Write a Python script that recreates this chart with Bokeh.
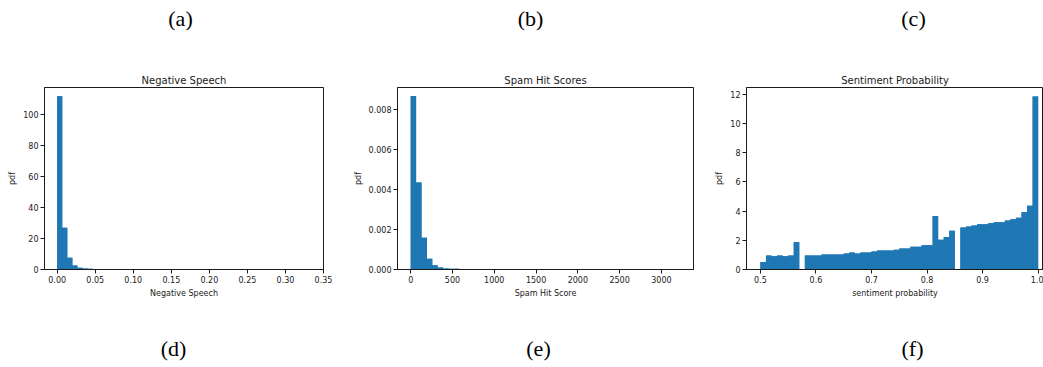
import numpy as np
from bokeh.plotting import figure
from bokeh.models import Range1d, FixedTicker, Label, ColumnDataSource
from bokeh.layouts import row, column
from bokeh.embed import file_html
from bokeh.resources import INLINE

# ---------------- data ----------------
# (d) Negative Speech: 50 bins from 0 to 1/3
neg_bin_start = 0.0
neg_bin_end = 1.0 / 3.0
neg_heights = [112.0, 27.0, 7.6, 2.6, 1.2, 0.65, 0.55, 0.2, 0.1, 0.05,
               0, 0, 0, 0, 0, 0, 0, 0, 0, 0,
               0, 0, 0, 0, 0, 0, 0, 0, 0, 0,
               0, 0, 0, 0, 0, 0, 0, 0, 0, 0,
               0, 0, 0, 0, 0, 0, 0, 0, 0, 0.02]
neg_xticks = [0.0, 0.05, 0.10, 0.15, 0.20, 0.25, 0.30, 0.35]
neg_xlabels = ["0.00", "0.05", "0.10", "0.15", "0.20", "0.25", "0.30", "0.35"]
neg_yticks = [0, 20, 40, 60, 80, 100]
neg_ylabels = ["0", "20", "40", "60", "80", "100"]

# (e) Spam Hit Scores: 50 bins from 0 to 3230
spam_bin_start = 0.0
spam_bin_end = 3230.0
spam_heights = [0.00868, 0.00435, 0.00159, 0.00054, 0.00021, 0.00010, 0.00005, 0.00004, 0.00004, 0.00001,
                0, 0, 0, 0, 0, 0, 0, 0, 0, 0,
                0, 0, 0, 0, 0, 0, 0, 0, 0, 0,
                0, 0, 0, 0, 0, 0, 0, 0, 0, 0,
                0, 0, 0, 0, 0, 0, 0, 0, 0, 0.0000005]
spam_xticks = [0, 500, 1000, 1500, 2000, 2500, 3000]
spam_xlabels = ["0", "500", "1000", "1500", "2000", "2500", "3000"]
spam_yticks = [0.0, 0.002, 0.004, 0.006, 0.008]
spam_ylabels = ["0.000", "0.002", "0.004", "0.006", "0.008"]

# (f) Sentiment Probability: 50 bins from 0.5 to 1.0
sent_bin_start = 0.5
sent_bin_end = 1.0
sent_heights = [0.52, 0.96, 0.91, 0.96, 0.91, 0.96, 1.89, 0.0, 0.96, 0.96,
                0.96, 1.02, 1.02, 1.02, 1.02, 1.09, 1.16, 1.09, 1.16, 1.16,
                1.23, 1.30, 1.30, 1.30, 1.35, 1.44, 1.44, 1.55, 1.55, 1.66,
                1.66, 3.67, 2.03, 2.23, 2.65, 0.0, 2.87, 2.94, 3.01, 3.10,
                3.10, 3.17, 3.23, 3.23, 3.35, 3.44, 3.55, 3.92, 4.37, 11.85]
sent_xticks = [0.5, 0.6, 0.7, 0.8, 0.9, 1.0]
sent_xlabels = ["0.5", "0.6", "0.7", "0.8", "0.9", "1.0"]
sent_yticks = [0, 2, 4, 6, 8, 10, 12]
sent_ylabels = ["0", "2", "4", "6", "8", "10", "12"]

titles = ["Negative Speech", "Spam Hit Scores", "Sentiment Probability"]
xlabels_axis = ["Negative Speech", "Spam Hit Score", "sentiment probability"]
top_tags = ["(a)", "(b)", "(c)"]
bottom_tags = ["(d)", "(e)", "(f)"]

BAR = "#1f77b4"
INK = "#1a1a1a"
FONT = "DejaVu Sans"

W = 1043
TOP_H = 40
BOT_H = 37
MID_H = 367 - TOP_H - BOT_H


def make_panel(width, borders, title, xlabel, start, end, heights, xr, yr,
               xticks, xlabels, yticks, ylabels):
    left, right, top, bottom = borders
    p = figure(width=width, height=MID_H, output_backend="svg", toolbar_location=None,
               x_range=Range1d(*xr), y_range=Range1d(*yr),
               min_border_left=left, min_border_right=right,
               min_border_top=top, min_border_bottom=bottom,
               title=title)
    edges = np.linspace(start, end, len(heights) + 1)
    # solid backing under the bars so adjacent bars show no seams
    p.varea_step(x=list(edges), y1=[0] * len(edges), y2=list(heights) + [heights[-1]],
                 step_mode="after", fill_color=BAR)
    src = ColumnDataSource(dict(left=edges[:-1], right=edges[1:],
                                top=heights, bottom=[0] * len(heights)))
    p.quad(left="left", right="right", top="top", bottom="bottom", source=src,
           fill_color=BAR, line_color=None)

    p.title.text_font = FONT
    p.title.text_font_size = "10px"
    p.title.text_font_style = "normal"
    p.title.text_color = INK
    p.title.align = "center"
    p.title.standoff = 3

    p.xgrid.visible = False
    p.ygrid.visible = False
    p.outline_line_color = INK
    p.outline_line_width = 1
    p.background_fill_color = "white"
    p.border_fill_color = "white"

    p.xaxis.ticker = FixedTicker(ticks=xticks)
    p.xaxis.major_label_overrides = {t: l for t, l in zip(xticks, xlabels)}
    p.yaxis.ticker = FixedTicker(ticks=yticks)
    p.yaxis.major_label_overrides = {t: l for t, l in zip(yticks, ylabels)}
    p.xaxis.axis_label = xlabel
    p.yaxis.axis_label = "pdf"
    for ax in (p.xaxis[0], p.yaxis[0]):
        ax.axis_line_color = INK
        ax.major_tick_line_color = INK
        ax.major_tick_in = 0
        ax.major_tick_out = 4
        ax.minor_tick_line_color = None
        ax.major_label_text_font = FONT
        ax.major_label_text_font_size = "8px"
        ax.major_label_text_color = INK
        ax.major_label_standoff = 2
        ax.axis_label_text_font = FONT
        ax.axis_label_text_font_size = "8px"
        ax.axis_label_text_font_style = "normal"
        ax.axis_label_text_color = INK
        ax.axis_label_standoff = 3
    return p


def make_tag_strip(height, y0, tags, xs, y):
    # a blank strip whose data units equal page pixels, holding the panel tags
    s = figure(width=W, height=height, output_backend="svg", toolbar_location=None,
               x_range=Range1d(0, W), y_range=Range1d(y0 + height, y0),
               min_border=0, x_axis_location=None, y_axis_location=None)
    s.xgrid.visible = False
    s.ygrid.visible = False
    s.outline_line_color = None
    s.background_fill_color = "white"
    s.border_fill_color = "white"
    for t, x in zip(tags, xs):
        s.add_layout(Label(x=x, y=y, text=t, text_font="Liberation Serif",
                           text_font_size="22px", text_color="black",
                           text_align="center", text_baseline="middle"))
    return s


p1 = make_panel(350, (44, 27, 87 - TOP_H, MID_H - (270 - TOP_H)), titles[0], xlabels_axis[0],
                neg_bin_start, neg_bin_end, neg_heights,
                (-1.0 / 60.0, 0.35), (0, 117.6),
                neg_xticks, neg_xlabels, neg_yticks, neg_ylabels)
p2 = make_panel(350, (45, 7, 83 - TOP_H, MID_H - (269 - TOP_H)), titles[1], xlabels_axis[1],
                spam_bin_start, spam_bin_end, spam_heights,
                (-158, 3384), (0, 0.00911),
                spam_xticks, spam_xlabels, spam_yticks, spam_ylabels)
p3 = make_panel(343, (46, 0, 87 - TOP_H, MID_H - (270 - TOP_H)), titles[2], xlabels_axis[2],
                sent_bin_start, sent_bin_end, sent_heights,
                (0.475, 1.0096), (0, 12.46),
                sent_xticks, sent_xlabels, sent_yticks, sent_ylabels)

top_strip = make_tag_strip(TOP_H, 0, top_tags, [180, 530, 913], 18)
bot_strip = make_tag_strip(BOT_H, 367 - BOT_H, bottom_tags, [173, 538, 912], 348)

layout = column(top_strip, row(p1, p2, p3, spacing=0), bot_strip, spacing=0)
open("out.html", "w").write(file_html(layout, INLINE))
